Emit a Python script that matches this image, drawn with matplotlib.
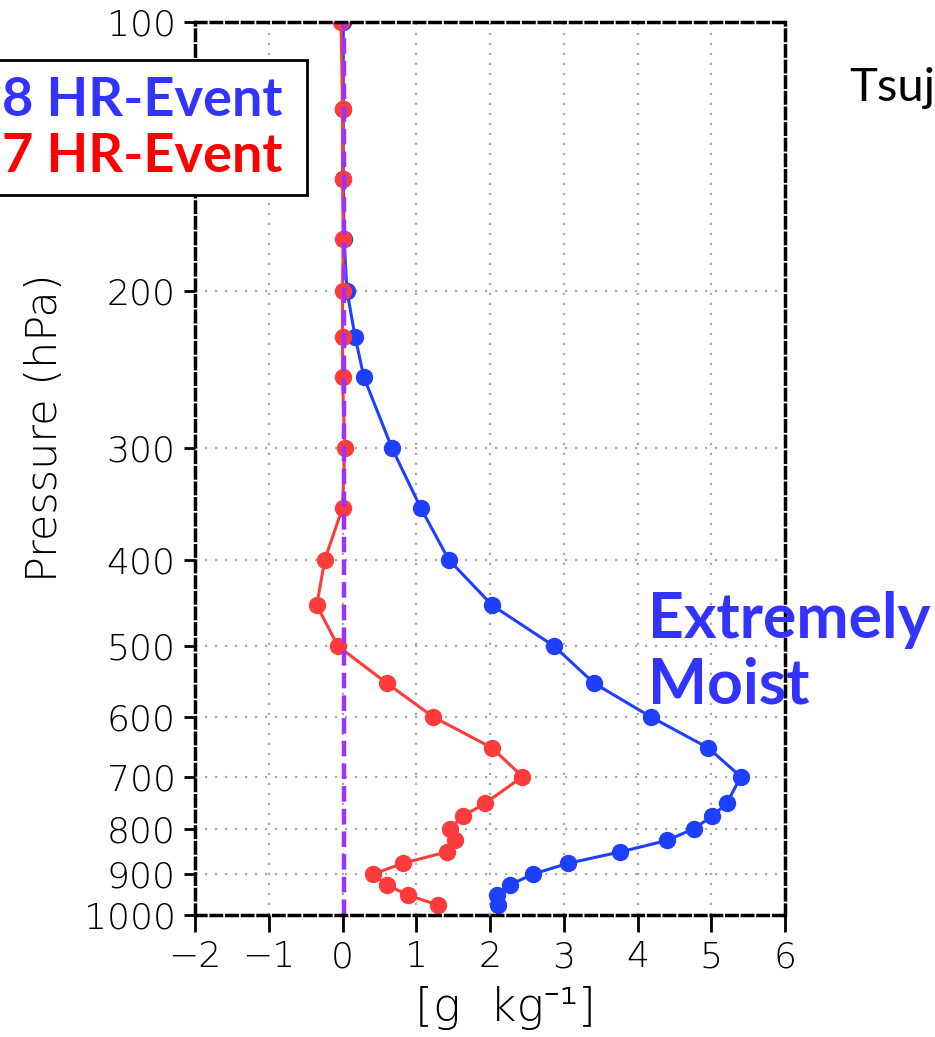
import matplotlib
matplotlib.use('Agg')
import matplotlib.pyplot as plt
from matplotlib.patches import Rectangle

# pressure levels (hPa)
levels = [100, 125, 150, 175, 200, 225, 250, 300, 350, 400, 450, 500, 550,
          600, 650, 700, 750, 775, 800, 825, 850, 875, 900, 925, 950, 975]

# blue: HR-Event (extremely moist)
blue_q = [0.01, 0.01, 0.01, 0.02, 0.06, 0.17, 0.29, 0.67, 1.06, 1.44, 2.03, 2.87, 3.41,
          4.18, 4.96, 5.40, 5.21, 5.01, 4.77, 4.40, 3.76, 3.06, 2.58, 2.27, 2.10, 2.11]
# red: HR-Event
red_q = [-0.02, 0.0, 0.0, 0.01, 0.0, 0.0, 0.0, 0.03, 0.0, -0.24, -0.35, -0.06, 0.60,
         1.23, 2.03, 2.44, 1.93, 1.63, 1.46, 1.53, 1.41, 0.82, 0.41, 0.60, 0.89, 1.30]

yticks = [100, 200, 300, 400, 500, 600, 700, 800, 900, 1000]
xticks = [-2, -1, 0, 1, 2, 3, 4, 5, 6]

fig = plt.figure(figsize=(9.35, 10.37), dpi=100)
ax = fig.add_axes([0.2086, 0.1176, 0.631, 0.8612])

ax.set_yscale('log')
ax.set_ylim(1000, 100)
ax.set_xlim(-2, 6)

# dotted grid
for x in range(-1, 6):
    ax.axvline(x, color='#aaaaaa', lw=1.6, ls=(0, (1, 3.5)), zorder=0)
for p in range(200, 1000, 100):
    ax.axhline(p, color='#aaaaaa', lw=1.6, ls=(0, (1, 3.5)), zorder=0)

ax.plot(blue_q, levels, color='#1f3fff', lw=2.2, marker='o', ms=11.5, zorder=3)
ax.plot(red_q, levels, color='#ff3b3b', lw=2.2, marker='o', ms=11.5, zorder=4)
ax.axvline(0.02, color='#9933ff', lw=3.2, ls=(0, (3.5, 1.6)), zorder=5)

ax.set_yticks(yticks)
ax.set_yticklabels([str(v) for v in yticks])
ax.yaxis.set_minor_locator(matplotlib.ticker.NullLocator())
ax.set_xticks(xticks)
ax.set_xticklabels([str(v).replace('-', '\u2212') for v in xticks])
ax.tick_params(axis='both', labelsize=26, direction='out', width=2, color='black')
ax.tick_params(axis='y', length=8, pad=6)
ax.tick_params(axis='x', length=12, pad=6)
for lab in ax.get_xticklabels() + ax.get_yticklabels():
    lab.set_fontweight('light')

for s in ax.spines.values():
    s.set_linestyle((0, (3, 1.5)))
    s.set_linewidth(2.5)
    s.set_zorder(6)

fig.text(45 / 935, 1 - 428 / 1037, 'Pressure (hPa)', fontsize=31, fontweight='light',
         rotation=90, va='center', ha='center')
fig.text(505 / 935, 1 - 1008 / 1037, '[g  kg\u207b\u00b9]', fontsize=33, fontweight='light',
         family=['DejaVu Sans', 'Noto Sans'], va='center', ha='center')

# label box at top left
fig.patches.append(Rectangle((-0.01, 1 - 195 / 1037), 307 / 935 + 0.01, 135 / 1037,
                             transform=fig.transFigure, facecolor='white',
                             edgecolor='black', lw=2, zorder=10))
fig.text(0.002, 1 - 100 / 1037, '8 HR-Event', color='#3333ff', fontsize=39,
         fontweight='bold', family='Lato', va='center', ha='left', zorder=11)
fig.text(0.002, 1 - 157 / 1037, '7 HR-Event', color='#ff0000', fontsize=39,
         fontweight='bold', family='Lato', va='center', ha='left', zorder=11)

fig.text(648 / 935, 1 - 620 / 1037, 'Extremely', color='#3333ff', fontsize=45,
         fontweight='bold', family='Lato', va='center', ha='left')
fig.text(648 / 935, 1 - 686 / 1037, 'Moist', color='#3333ff', fontsize=45,
         fontweight='bold', family='Lato', va='center', ha='left')

fig.text(849 / 935, 1 - 88 / 1037, 'Tsuj', color='black', fontsize=34,
         family='Lato', va='center', ha='left')

fig.savefig('out.png', dpi=100)
